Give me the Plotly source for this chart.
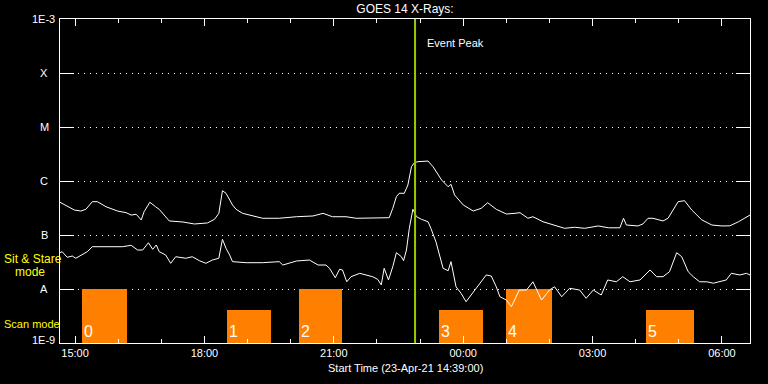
import math
import pandas as pd
import plotly.graph_objects as go

# ---- data ----
upper_t = ["14:39","14:52","14:59","15:08","15:15","15:24","15:31","15:43","15:59","16:11",
           "16:18","16:25","16:32","16:36","16:44","16:52","16:57","17:11","17:30","17:46",
           "18:04","18:14","18:20","18:25","18:30","18:39","18:44","18:53","19:07","19:21",
           "19:44","20:08","20:31","20:45","20:58","21:17","21:31","21:50","22:08","22:17",
           "22:22","22:27","22:31","22:38","22:43","22:48","22:52","22:57","23:11","23:18",
           "23:30","23:39","23:43","23:48","00:00","00:14","00:25","00:34","00:46","01:00",
           "01:12","01:19","01:30","01:37","01:51","02:05","02:21","02:35","02:49","03:08",
           "03:22","03:38","03:43","03:47","04:03","04:10","04:17","04:24","04:38","04:45",
           "04:55","04:59","05:08","05:18","05:32","05:46","06:00","06:11","06:23","06:32",
           "06:39"]
upper_v = [4.04e-7,3.26e-7,2.90e-7,2.78e-7,2.99e-7,4.14e-7,4.14e-7,3.34e-7,2.78e-7,2.59e-7,
           2.34e-7,2.42e-7,1.90e-7,2.70e-7,4.04e-7,3.34e-7,2.99e-7,1.82e-7,1.74e-7,1.60e-7,
           1.67e-7,1.95e-7,2.52e-7,6.61e-7,5.92e-7,3.60e-7,2.99e-7,2.52e-7,2.28e-7,2.04e-7,
           2.04e-7,2.18e-7,2.25e-7,2.52e-7,2.18e-7,2.18e-7,2.04e-7,2.04e-7,2.09e-7,2.09e-7,
           3.12e-7,5.12e-7,5.92e-7,5.92e-7,8.43e-7,1.84e-6,2.18e-6,2.28e-6,2.34e-6,1.84e-6,
           1.04e-6,7.83e-7,8.69e-7,5.51e-7,3.60e-7,2.78e-7,3.12e-7,3.96e-7,2.99e-7,2.45e-7,
           2.52e-7,2.59e-7,2.04e-7,2.18e-7,1.76e-7,1.53e-7,1.33e-7,1.39e-7,1.33e-7,1.47e-7,
           1.36e-7,1.36e-7,2.04e-7,1.53e-7,1.47e-7,1.60e-7,2.04e-7,2.04e-7,1.82e-7,2.04e-7,
           3.34e-7,4.14e-7,4.32e-7,2.90e-7,1.90e-7,1.53e-7,1.47e-7,1.48e-7,1.76e-7,2.04e-7,
           2.34e-7]

lower_t = ["14:39","14:42","14:49","14:56","15:01","15:10","15:17","15:24","15:38","15:52",
           "16:06","16:18","16:27","16:34","16:42","16:48","16:53","16:57","17:06","17:13",
           "17:20","17:34","17:43","17:53","18:02","18:11","18:20","18:25","18:30","18:35",
           "18:39","18:58","19:21","19:44","19:49","20:08","20:26","20:38","20:49","20:54",
           "21:02","21:08","21:12","21:18","21:24","21:36","21:45","21:54","22:01","22:06",
           "22:10","22:16","22:22","22:27","22:34","22:37","22:41","22:45","22:50","22:55",
           "23:02","23:11","23:15","23:22","23:32","23:39","23:43","23:46","23:50","23:57",
           "00:04","00:11","00:20","00:32","00:39","00:46","00:51","01:00","01:07","01:18",
           "01:28","01:37","01:49","02:00","02:07","02:17","02:28","02:42","02:51","03:01",
           "03:12","03:21","03:33","03:42","03:52","04:06","04:20","04:29","04:38","04:47",
           "04:57","05:04","05:13","05:20","05:29","05:39","05:48","05:57","06:06","06:13",
           "06:25","06:34","06:39"]
lower_v = [4.70e-8,4.91e-8,3.86e-8,4.08e-8,3.71e-8,4.27e-8,4.91e-8,6.07e-8,6.07e-8,5.92e-8,
           6.07e-8,6.44e-8,5.27e-8,5.27e-8,7.19e-8,5.43e-8,6.53e-8,4.91e-8,4.27e-8,2.99e-8,
           3.96e-8,3.71e-8,3.96e-8,3.34e-8,2.99e-8,3.44e-8,3.71e-8,8.32e-8,5.68e-8,4.27e-8,
           3.21e-8,3.07e-8,3.07e-8,3.21e-8,2.78e-8,3.30e-8,3.44e-8,2.78e-8,2.78e-8,2.42e-8,
           1.62e-8,2.32e-8,2.25e-8,1.36e-8,1.69e-8,1.95e-8,1.82e-8,1.69e-8,1.51e-8,1.19e-8,
           2.42e-8,1.47e-8,2.59e-8,4.70e-8,3.96e-8,3.34e-8,5.27e-8,1.33e-7,2.99e-7,2.18e-7,
           1.95e-7,1.76e-7,1.33e-7,7.52e-8,2.42e-8,2.18e-8,3.21e-8,1.90e-8,1.10e-8,8.32e-9,
           5.82e-9,7.74e-9,1.10e-8,1.82e-8,1.74e-8,1.10e-8,7.19e-9,6.25e-9,4.70e-9,9.57e-9,
           9.57e-9,1.36e-8,6.25e-9,9.57e-9,1.10e-8,7.19e-9,1.03e-8,9.57e-9,6.73e-9,9.57e-9,
           7.74e-9,1.47e-8,1.36e-8,1.69e-8,1.36e-8,1.47e-8,2.25e-8,1.69e-8,1.69e-8,2.09e-8,
           4.70e-8,3.96e-8,2.09e-8,1.69e-8,1.36e-8,1.36e-8,1.28e-8,1.36e-8,1.47e-8,1.95e-8,
           1.82e-8,1.95e-8,1.82e-8]

bar_start = ["15:10", "18:31", "20:11", "23:26", "01:00", "04:14"]
bar_end = ["16:12", "19:33", "21:12", "00:28", "02:03", "05:21"]
bar_top = [1e-8, 4.1e-9, 1e-8, 4.1e-9, 1e-8, 4.1e-9]
bar_labels = ["0", "1", "2", "3", "4", "5"]

event_peak = "22:53"
x_start, x_end = "14:39", "06:39"
xtick_times = ["15:00", "18:00", "21:00", "00:00", "03:00", "06:00"]
xtick_text = ["15:00", "18:00", "21:00", "00:00", "03:00", "06:00"]
ylabel_vals = [1e-3, 1e-4, 1e-5, 1e-6, 1e-7, 1e-8, 1e-9]
ylabel_text = ["1E-3", "X", "M", "C", "B", "A", "1E-9"]


def to_dt(hhmm):
    day = "2021-04-23" if int(hhmm[:2]) >= 12 else "2021-04-24"
    return pd.Timestamp(f"{day} {hhmm}")


FONT = "Liberation Sans"
WHITE = "#ffffff"
YEL = "#ffff00"

fig = go.Figure()

bs = [to_dt(t) for t in bar_start]
be = [to_dt(t) for t in bar_end]
centers = [s + (e - s) / 2 for s, e in zip(bs, be)]
widths = [(e - s).total_seconds() * 1000 for s, e in zip(bs, be)]
fig.add_trace(go.Bar(x=centers, y=bar_top, width=widths, marker_color="#ff8000",
                     marker_line_width=0, hoverinfo="skip"))

fig.add_trace(go.Scatter(x=[to_dt(t) for t in upper_t], y=upper_v, mode="lines",
                         line=dict(color=WHITE, width=1)))
fig.add_trace(go.Scatter(x=[to_dt(t) for t in lower_t], y=lower_v, mode="lines",
                         line=dict(color=WHITE, width=1)))

peak = to_dt(event_peak)
fig.add_shape(type="line", xref="x", yref="paper", x0=peak, x1=peak, y0=0, y1=1,
              line=dict(color="#99cc00", width=2), layer="above")

annotations = []
annotations.append(dict(x=peak, y=1, xref="x", yref="paper", yshift=-24, xshift=10,
                        text="Event Peak", showarrow=False, xanchor="left", yanchor="middle",
                        font=dict(family=FONT, size=11, color=WHITE)))
for s, lab in zip(bs, bar_labels):
    annotations.append(dict(x=s, y=-9, xref="x", yref="y", text=lab, showarrow=False,
                            xanchor="left", yanchor="bottom", yshift=1, xshift=0,
                            font=dict(family=FONT, size=16, color=WHITE)))
for v, t in zip(ylabel_vals, ylabel_text):
    if t.startswith("1E"):
        annotations.append(dict(x=-3 / 690, y=math.log10(v), xref="paper", yref="y", text=t,
                                showarrow=False, xanchor="right", yanchor="middle",
                                yshift=(3 if t == "1E-9" else 0),
                                font=dict(family=FONT, size=11, color=WHITE)))
    else:
        annotations.append(dict(x=-16 / 690, y=math.log10(v), xref="paper", yref="y", text=t,
                                showarrow=False, xanchor="center", yanchor="middle",
                                font=dict(family=FONT, size=11, color=WHITE)))
for txt, py, px, fs in [("Sit & Stare", 259, 2, 12), ("mode", 272, 13, 12), ("Scan mode", 324, 2, 11)]:
    annotations.append(dict(x=(px - 60) / 690, y=1 - (py - 19) / 324, xref="paper", yref="paper",
                            text=txt, showarrow=False, xanchor="left", yanchor="middle",
                            font=dict(family=FONT, size=fs, color=YEL)))
annotations.append(dict(x=0.5, y=-25 / 324, xref="paper", yref="paper",
                        text="Start Time (23-Apr-21 14:39:00)", showarrow=False,
                        xanchor="center", yanchor="middle",
                        font=dict(family=FONT, size=11, color=WHITE)))

fig.update_layout(
    width=768, height=384,
    margin=dict(l=60, r=18, t=19, b=41),
    paper_bgcolor="black", plot_bgcolor="black",
    showlegend=False,
    bargap=0,
    title=dict(text="GOES 14 X-Rays:", x=0.5, xref="paper", y=1 - 9 / 384, yanchor="middle",
               font=dict(family=FONT, size=12, color=WHITE)),
    annotations=annotations,
    xaxis=dict(type="date", range=[to_dt(x_start), to_dt(x_end)],
               tickvals=[to_dt(t) for t in xtick_times], ticktext=xtick_text,
               ticks="inside", ticklen=7, tickcolor=WHITE, tickwidth=1,
               showline=True, linecolor=WHITE, linewidth=1, mirror="ticks",
               showgrid=False, zeroline=False,
               tickfont=dict(family=FONT, size=11, color=WHITE),
               minor=dict(dtick=3600000, tick0=to_dt("15:00"), ticks="inside", ticklen=4,
                          tickcolor=WHITE, showgrid=False)),
    yaxis=dict(type="log", range=[-9, -3], tickvals=[1e-8, 1e-7, 1e-6, 1e-5, 1e-4],
               showticklabels=False, ticks="inside", ticklen=14, tickcolor=WHITE,
               showline=True, linecolor=WHITE, linewidth=1, mirror="ticks",
               showgrid=True, gridcolor=WHITE, gridwidth=1, griddash="1px,5px",
               zeroline=False),
)

fig.write_html("out.html", config={"displayModeBar": False},
               post_script="document.body.style.margin='0';"
                           "document.body.style.background='black';"
                           "document.body.style.overflow='hidden';")
